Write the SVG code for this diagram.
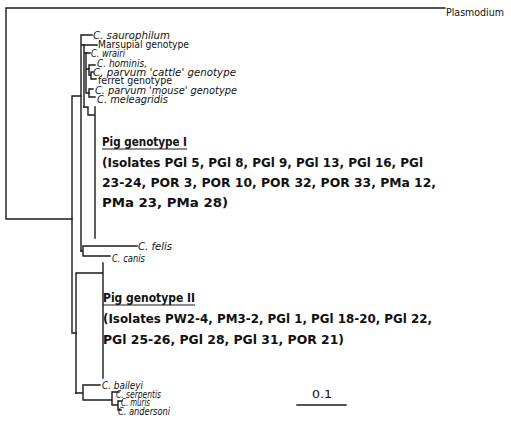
<svg xmlns="http://www.w3.org/2000/svg" width="511" height="424" viewBox="0 0 511 424">
<style>
.e{stroke:#1a1a1a;stroke-width:1.4;fill:none;stroke-linecap:square}
.u{stroke:#1a1a1a;stroke-width:1;fill:none}
.sp{font-family:"DejaVu Sans","Liberation Sans",sans-serif;font-style:italic;font-size:10px;fill:#111}
.nm{font-family:"DejaVu Sans","Liberation Sans",sans-serif;font-size:10px;fill:#111}
.pl{font-family:"DejaVu Sans","Liberation Sans",sans-serif;font-size:11px;fill:#111}
.pg{font-family:"DejaVu Sans","Liberation Sans",sans-serif;font-weight:bold;font-size:12.5px;fill:#111}
</style>
<rect width="511" height="424" fill="#fff"/>
<g id="connectors">
<path class="e" d="M6 8V219M6 8H445M6 219H72"/>
<path class="e" d="M72 96V333M72 96H81M72 333H76"/>
<path class="e" d="M81 35V251M81 35H92M81 45H84"/>
<path class="e" d="M84 45V107M84 45H97M84 53H86"/>
<path class="e" d="M86 53V93M86 53H90M86 69H89M86 93H89"/>
<path class="e" d="M89 65V75M89 65H95M89 75H91M91 72V79M91 72H93M91 79H96"/>
<path class="e" d="M89 89V97M89 89H93M89 97H95"/>
<path class="e" d="M84 107H88M88 107V115M88 115H95M95 107V238"/>
<path class="e" d="M81 251H83M83 246V256M83 246H137M83 256H110"/>
<path class="e" d="M76 273V393M76 273H103M103 263V378"/>
<path class="e" d="M76 393H83M83 385V400M83 385H100M83 400H112M112 392V405M112 392H119M112 405H118M118 401V410M118 401H122M118 410H121"/>
<path class="e" d="M297 405H346"/>
</g>
<g id="plasmodium"><text class="pl" x="446" y="16" textLength="58" lengthAdjust="spacingAndGlyphs">Plasmodium</text></g>
<g id="saurophilum"><text class="sp" x="93" y="39" textLength="77" lengthAdjust="spacingAndGlyphs">C. saurophilum</text></g>
<g id="marsupial"><text class="nm" x="98" y="48" textLength="91" lengthAdjust="spacingAndGlyphs">Marsupial genotype</text></g>
<g id="wrairi"><text class="sp" x="91" y="57" textLength="34" lengthAdjust="spacingAndGlyphs">C. wrairi</text></g>
<g id="hominis"><text class="sp" x="97" y="67" textLength="50" lengthAdjust="spacingAndGlyphs">C. hominis,</text></g>
<g id="cattle"><text class="sp" x="93" y="76" textLength="143" lengthAdjust="spacingAndGlyphs">C. parvum 'cattle' genotype</text></g>
<g id="ferret"><text class="nm" x="98" y="84" textLength="74" lengthAdjust="spacingAndGlyphs">ferret genotype</text></g>
<g id="mouse"><text class="sp" x="95" y="94" textLength="142" lengthAdjust="spacingAndGlyphs">C. parvum 'mouse' genotype</text></g>
<g id="meleagridis"><text class="sp" x="97" y="103" textLength="71" lengthAdjust="spacingAndGlyphs">C. meleagridis</text></g>
<g id="pig1">
<text class="pg" x="102" y="146" textLength="85" lengthAdjust="spacingAndGlyphs">Pig genotype I</text>
<path class="u" d="M102 149H187"/>
<text class="pg" x="102" y="167" textLength="321" lengthAdjust="spacingAndGlyphs">(Isolates PGl 5, PGl 8, PGl 9, PGl 13, PGl 16, PGl</text>
<text class="pg" x="102" y="187" textLength="334" lengthAdjust="spacingAndGlyphs">23-24, POR 3, POR 10, POR 32, POR 33, PMa 12,</text>
<text class="pg" x="102" y="207" textLength="126" lengthAdjust="spacingAndGlyphs">PMa 23, PMa 28)</text>
</g>
<g id="felis"><text class="sp" x="138" y="250" textLength="34" lengthAdjust="spacingAndGlyphs">C. felis</text></g>
<g id="canis"><text class="sp" x="112" y="262" textLength="33" lengthAdjust="spacingAndGlyphs">C. canis</text></g>
<g id="pig2">
<text class="pg" x="103" y="302" textLength="92" lengthAdjust="spacingAndGlyphs">Pig genotype II</text>
<path class="u" d="M103 305H195"/>
<text class="pg" x="103" y="323" textLength="329" lengthAdjust="spacingAndGlyphs">(Isolates PW2-4, PM3-2, PGl 1, PGl 18-20, PGl 22,</text>
<text class="pg" x="103" y="344" textLength="241" lengthAdjust="spacingAndGlyphs">PGl 25-26, PGl 28, PGl 31, POR 21)</text>
</g>
<g id="baileyi"><text class="sp" x="102" y="389" textLength="41" lengthAdjust="spacingAndGlyphs">C. baileyi</text></g>
<g id="serpentis"><text class="sp" x="116" y="398" textLength="45" lengthAdjust="spacingAndGlyphs">C. serpentis</text></g>
<g id="muris"><text class="sp" x="121" y="406" textLength="29" lengthAdjust="spacingAndGlyphs">C. muris</text></g>
<g id="andersoni"><text class="sp" x="118" y="415" textLength="52" lengthAdjust="spacingAndGlyphs">C. andersoni</text></g>
<g id="scale"><text class="pl" x="312" y="398" textLength="20" lengthAdjust="spacingAndGlyphs">0.1</text></g>
</svg>
